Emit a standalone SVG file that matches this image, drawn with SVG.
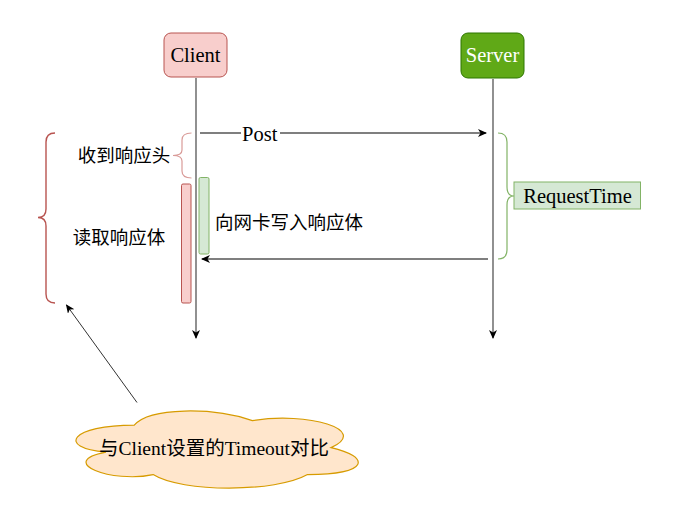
<svg xmlns="http://www.w3.org/2000/svg" width="688" height="506" viewBox="0 0 688 506">
<style>
.lat{font-family:"Liberation Serif","Noto Sans CJK SC",serif;font-size:20.5px;fill:#000}
.cl{font-size:19.5px}
.cjk{font-family:"Noto Sans CJK SC","Noto Sans",sans-serif;font-size:18.5px;fill:#000}
.ln{stroke:#333;stroke-width:1;fill:none}
.life{stroke:#555;stroke-width:1.3;fill:none}
</style>
<defs>
<marker id="ah" markerWidth="10" markerHeight="10" refX="8" refY="4" orient="auto" markerUnits="userSpaceOnUse">
<path d="M0,0 L9,4 L0,8 L2.5,4 Z" fill="#000"/>
</marker>
</defs>
<rect width="688" height="506" fill="#fff"/>
<g id="client">
<rect x="164" y="33" width="63" height="44" rx="7" fill="#f8cecc" stroke="#b85450"/>
<text class="lat" x="195.5" y="62" text-anchor="middle">Client</text>
</g>
<g id="server">
<rect x="461" y="33" width="63" height="45" rx="7" fill="#60a917" stroke="#2d7600"/>
<text class="lat" x="492.5" y="62" text-anchor="middle" style="fill:#fff">Server</text>
</g>
<g id="activation-read">
<rect x="181.5" y="184" width="9.5" height="119" rx="1.5" fill="#f8cecc" stroke="#b85450"/>
</g>
<g id="activation-write">
<rect x="199" y="177.5" width="10" height="76.5" rx="1.5" fill="#d5e8d4" stroke="#82b366"/>
</g>
<g id="connectors">
<line class="life" x1="196" y1="78" x2="196" y2="338" marker-end="url(#ah)"/>
<line class="life" x1="493" y1="79" x2="493" y2="338" marker-end="url(#ah)"/>
<line class="life" x1="200" y1="133" x2="486" y2="133" marker-end="url(#ah)"/>
<line class="life" x1="488" y1="259" x2="202" y2="259" marker-end="url(#ah)"/>
<line class="ln" x1="137" y1="402.5" x2="66.5" y2="305" marker-end="url(#ah)"/>
</g>
<g id="post-label">
<rect x="241" y="124" width="39" height="20" fill="#fff"/>
<text class="lat" x="242" y="141">Post</text>
</g>
<g id="brace-header">
<path d="M191.5,133 Q182,133 182,140 L182,150 Q182,155.5 173,155.5 Q182,155.5 182,161 L182,171 Q182,178 191.5,178" fill="none" stroke="#d99b98" stroke-width="1.2"/>
<text class="cjk" x="124" y="162" text-anchor="middle">收到响应头</text>
</g>
<g id="brace-total">
<path d="M55,133 Q46,133 46,142 L46,209 Q46,217.5 38,217.5 Q46,217.5 46,226 L46,294 Q46,303 55,303" fill="none" stroke="#b85450" stroke-width="1.4"/>
<text class="cjk" x="119" y="244" text-anchor="middle">读取响应体</text>
</g>
<g id="write-label">
<text class="cjk" x="215" y="229">向网卡写入响应体</text>
</g>
<g id="brace-request">
<path d="M498,133 Q507,133 507,142 L507,187 Q507,196 514,196 Q507,196 507,205 L507,250 Q507,259 498,259" fill="none" stroke="#82b366" stroke-width="1.2"/>
</g>
<g id="request-time">
<rect x="514" y="182" width="126.5" height="27" fill="#d5e8d4" stroke="#82b366"/>
<text class="lat" x="577.5" y="202.5" text-anchor="middle">RequestTime</text>
</g>
<g id="timeout-cloud">
<path d="M134.25,425.1 C71.25,425.1 55.5,447.6 105.9,452.1 C55.5,462 112.2,483.6 153.15,474.6 C181.5,492.6 276,492.6 307.5,474.6 C370.5,474.6 370.5,456.6 331.1,447.6 C370.5,429.6 307.5,411.6 252.4,420.6 C213,407.1 150,407.1 134.25,425.1 Z" fill="#ffe6cc" stroke="#d79b00" stroke-width="1.2"/>
<text class="lat cl" x="214" y="455" text-anchor="middle">与Client设置的Timeout对比</text>
</g>
</svg>
